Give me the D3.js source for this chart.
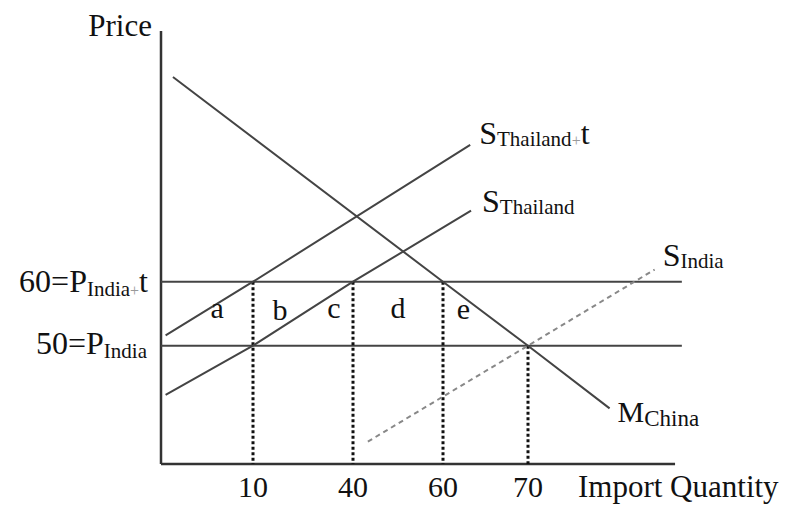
<!DOCTYPE html>
<html>
<head>
<meta charset="utf-8">
<script src="https://cdn.jsdelivr.net/npm/d3@7"></script>
<style>
  html, body { margin: 0; padding: 0; background: #fff; }
  svg { display: block; }
  text { font-family: "Liberation Serif", "Times New Roman", serif; fill: #111; }
  .curve { fill: none; stroke: #444; stroke-width: 2; }
  .dashed { fill: none; stroke: #888; stroke-width: 2; stroke-dasharray: 5,4; }
  .drop { stroke: #111; stroke-width: 3; stroke-dasharray: 3,2.5; }
  .axis-line { stroke: #333; stroke-width: 2.5; }
</style>
</head>
<body>
<svg id="chart" width="786" height="505"></svg>
<script>
// quantity ticks shown on the horizontal axis (diagram is not drawn to scale)
const tickQty = [10, 40, 60, 70]
// world price levels
const priceLevels = [60, 50]
// curves as [quantity, price] points
const mChina = [[1.3, 92], [60, 60], [70, 50], [79.6, 40.2]]
const sThailandT = [[0.5, 51.6], [10, 60], [63.2, 81.4]]
const sThailand = [[0.5, 42.3], [10, 50], [40, 60], [63.3, 71.1]]
const sIndia = [[43.3, 35], [70, 50], [84.9, 61.9]]
// dotted drop lines from an intersection down to the axis
const drops = [[10, 60], [40, 60], [60, 60], [70, 50]]
// welfare area letters
const areaNames = ["a", "b", "c", "d", "e"]
const areaQty = [6.1, 18.1, 34.3, 50, 62.4]
const areaPrice = [54.4, 54, 54.4, 54.4, 54.1]

const margin = { top: 31, left: 161, bottom: 41 }
const width = 786
const height = 505
const innerHeight = height - margin.top - margin.bottom

const svg = d3.select("#chart")
const g = svg.append("g").attr("transform", `translate(${margin.left}, ${margin.top})`)

// piecewise x scale: the sketch spaces the quantities unevenly
const x = d3.scaleLinear()
    .domain([0, 10, 40, 60, 70, 90])
    .range([0, 92, 192, 282, 367, 537])
const y = d3.scaleLinear().domain([31.5, 99.2]).range([innerHeight, 0])

const line = d3.line().x(d => x(d[0])).y(d => y(d[1]))

// axes
g.append("line").attr("class", "axis-line")
    .attr("x1", 0).attr("x2", 0).attr("y1", 0).attr("y2", innerHeight)
g.append("line").attr("class", "axis-line")
    .attr("x1", 0).attr("x2", x(87.3)).attr("y1", innerHeight).attr("y2", innerHeight)

// price level lines
g.selectAll(".level").data(priceLevels).enter().append("line")
    .attr("class", "curve level")
    .attr("x1", 0).attr("x2", x(88.1))
    .attr("y1", d => y(d)).attr("y2", d => y(d))

// dotted drop lines
g.selectAll(".drop").data(drops).enter().append("line")
    .attr("class", "drop")
    .attr("x1", d => x(d[0])).attr("x2", d => x(d[0]))
    .attr("y1", d => y(d[1])).attr("y2", innerHeight)

// curves
g.append("path").datum(sIndia).attr("class", "dashed").attr("d", line)
g.append("path").datum(mChina).attr("class", "curve").attr("d", line)
g.append("path").datum(sThailandT).attr("class", "curve").attr("d", line)
g.append("path").datum(sThailand).attr("class", "curve").attr("d", line)

// tick labels
g.selectAll(".tick-label").data(tickQty).enter().append("text")
    .attr("class", "tick-label")
    .attr("x", d => x(d))
    .attr("y", innerHeight + 33)
    .attr("text-anchor", "middle")
    .style("font-size", "30px")
    .text(d => d)

g.append("text")
    .attr("x", x(70) + 50)
    .attr("y", innerHeight + 33)
    .style("font-size", "31px")
    .text("Import Quantity")

g.append("text")
    .attr("x", -9)
    .attr("y", 5)
    .attr("text-anchor", "end")
    .style("font-size", "31px")
    .text("Price")

// helper for labels with subscripts: parts = [text, size, dy, fill]
function richLabel(sel, parts) {
    parts.forEach(p => {
        sel.append("tspan")
            .style("font-size", p[1] + "px")
            .attr("dy", p[2])
            .style("fill", p[3] || "#111")
            .text(p[0])
    })
    return sel
}

// price level labels
richLabel(g.append("text").attr("x", -13).attr("y", y(60) + 10).attr("text-anchor", "end"),
    [["60=P", 32, 0], ["India", 21, 4], ["+", 16, 0, "#999"], ["t", 32, -4]])
richLabel(g.append("text").attr("x", -14).attr("y", y(50) + 8).attr("text-anchor", "end"),
    [["50=P", 32, 0], ["India", 21, 4]])

// curve labels at line ends
function endOf(arr) { return arr[arr.length - 1] }
richLabel(g.append("text").attr("x", x(endOf(sThailandT)[0]) + 9).attr("y", y(endOf(sThailandT)[1]) - 1),
    [["S", 32, 0], ["Thailand", 21, 2], ["+", 16, 0, "#999"], ["t", 32, -2]])
richLabel(g.append("text").attr("x", x(endOf(sThailand)[0]) + 11).attr("y", y(endOf(sThailand)[1]) + 1),
    [["S", 32, 0], ["Thailand", 21, 2]])
richLabel(g.append("text").attr("x", x(endOf(sIndia)[0]) + 8).attr("y", y(endOf(sIndia)[1]) - 4),
    [["S", 32, 0], ["India", 21, 2]])
richLabel(g.append("text").attr("x", x(endOf(mChina)[0]) + 8).attr("y", y(endOf(mChina)[1]) + 14),
    [["M", 30, 0], ["China", 23, 4]])

// area letters
g.selectAll(".area-label").data(areaNames).enter().append("text")
    .attr("class", "area-label")
    .attr("x", (d, i) => x(areaQty[i]))
    .attr("y", (d, i) => y(areaPrice[i]))
    .attr("text-anchor", "middle")
    .style("font-size", "30px")
    .text(d => d)
</script>
</body>
</html>
